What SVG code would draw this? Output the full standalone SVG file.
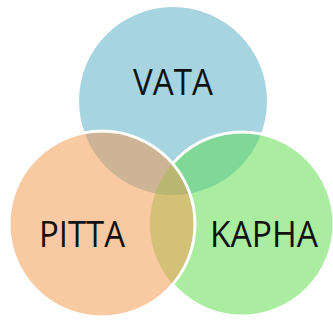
<svg xmlns="http://www.w3.org/2000/svg" width="333" height="323" viewBox="0 0 333 323">
<style>
.lbl{font-family:"Open Sans","Liberation Sans",sans-serif;font-size:36px;fill:#111;text-anchor:middle}
.edge{fill:none;stroke:#fff;stroke-width:3}
</style>
<defs>
<clipPath id="cV"><circle cx="173" cy="101" r="94"/></clipPath>
<clipPath id="cP"><circle cx="102" cy="224" r="93"/></clipPath>
<clipPath id="cK"><circle cx="242" cy="224" r="92"/></clipPath>
<clipPath id="outP"><path clip-rule="evenodd" d="M-10-10H350V340H-10Z M9 224a93 93 0 1 0 186 0a93 93 0 1 0 -186 0Z"/></clipPath>
</defs>
<rect width="333" height="323" fill="#fff"/>
<g id="vata">
<circle cx="173" cy="101" r="94" fill="#A6D4E1"/>
</g>
<g id="kapha">
<circle cx="242" cy="224" r="92" fill="#ABEDA0"/>
</g>
<g id="pitta">
<circle cx="102" cy="224" r="93" fill="#F9CAA2"/>
</g>
<g id="overlaps">
<circle cx="102" cy="224" r="93" fill="#CCB495" clip-path="url(#cV)"/>
<circle cx="242" cy="224" r="92" fill="#80D896" clip-path="url(#cV)"/>
<circle cx="242" cy="224" r="92" fill="#D2C177" clip-path="url(#cP)"/>
<g clip-path="url(#cV)"><circle cx="242" cy="224" r="92" fill="#B8B670" clip-path="url(#cP)"/></g>
</g>
<g id="connectors">
<circle class="edge" cx="242" cy="224" r="92" clip-path="url(#outP)"/>
<circle class="edge" cx="102" cy="224" r="93"/>
</g>
<text class="lbl" x="173" y="95" textLength="80" lengthAdjust="spacingAndGlyphs">VATA</text>
<text class="lbl" x="82" y="247" textLength="86" lengthAdjust="spacingAndGlyphs">PITTA</text>
<text class="lbl" x="264" y="247" textLength="108" lengthAdjust="spacingAndGlyphs">KAPHA</text>
</svg>
